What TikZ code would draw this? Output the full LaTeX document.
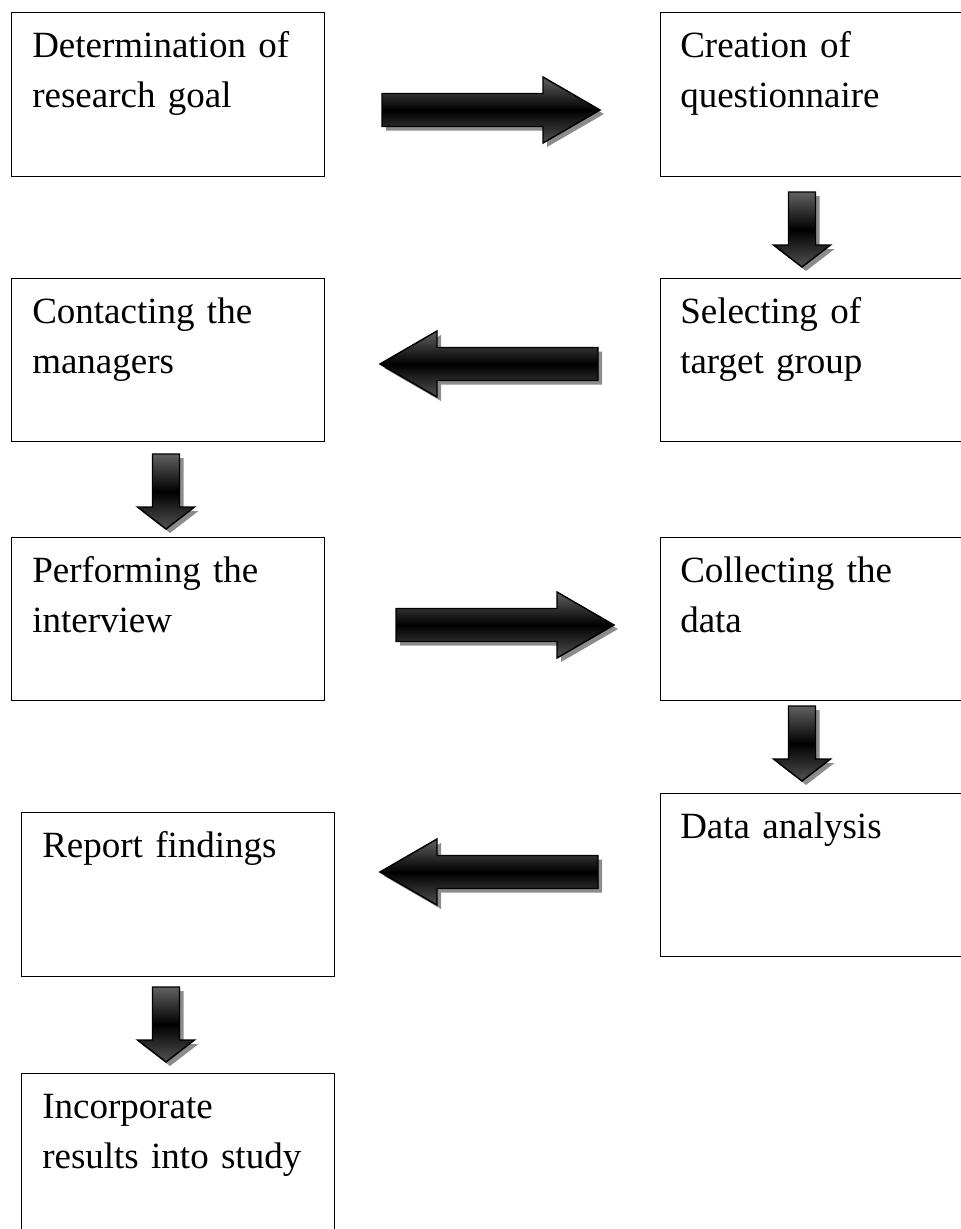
\documentclass[tikz,border=0pt]{standalone}
\usepackage{fontspec}
\setmainfont{Liberation Serif}
\begin{document}
\begin{tikzpicture}[x=0.75pt, y=-0.75pt,
  box/.style={draw=black, line width=1.1pt, fill=white, rectangle, inner sep=0pt,
    anchor=north west, minimum width=313*0.75pt, minimum height=164*0.75pt},
  widebox/.style={box, minimum width=330*0.75pt},
  txt/.style={anchor=base west, inner sep=0pt, align=left, text width=300*0.75pt,
    font=\fontsize{27.75pt}{37.5pt}\selectfont},
  arrowshadow/.style={fill=black!45},
  arrowbody/.style={draw=black, line width=1.1pt, line join=miter,
    top color=black!62, bottom color=black!68, middle color=black},
  pics/arrowright/.style={code={
    \fill[arrowshadow, shift={(4,4)}] (0,-16.5) -- (161,-16.5) -- (161,-33) -- (218,0)
      -- (161,33) -- (161,16.5) -- (0,16.5) -- cycle;
    \draw[arrowbody] (0,-16.5) -- (161,-16.5) -- (161,-33) -- (218,0)
      -- (161,33) -- (161,16.5) -- (0,16.5) -- cycle;
  }},
  pics/arrowleft/.style={code={
    \fill[arrowshadow, shift={(4,4)}] (0,0) -- (57,-33) -- (57,-16.5) -- (218,-16.5)
      -- (218,16.5) -- (57,16.5) -- (57,33) -- cycle;
    \draw[arrowbody] (0,0) -- (57,-33) -- (57,-16.5) -- (218,-16.5)
      -- (218,16.5) -- (57,16.5) -- (57,33) -- cycle;
  }},
  pics/arrowdown/.style={code={
    \fill[arrowshadow, shift={(4,4)}] (-13.5,0) -- (13.5,0) -- (13.5,53) -- (28.5,53)
      -- (0,75) -- (-28.5,53) -- (-13.5,53) -- cycle;
    \draw[arrowbody] (-13.5,0) -- (13.5,0) -- (13.5,53) -- (28.5,53)
      -- (0,75) -- (-28.5,53) -- (-13.5,53) -- cycle;
  }}
]
\useasboundingbox (0,0) rectangle (961,1229);
\clip (0,0) rectangle (961,1229);

% process steps
\node[box] (goal) at (11,12) {};
\node[txt] (goalt) at ([shift={(21,45)}]goal.north west) {Determination of\\research goal};

\node[widebox] (quest) at (660,12) {};
\node[txt] (questt) at ([shift={(20,45)}]quest.north west) {Creation of\\questionnaire};

\node[widebox, minimum height=163*0.75pt] (target) at (660,278) {};
\node[txt] (targett) at ([shift={(20,45)}]target.north west) {Selecting of\\target group};

\node[box, minimum height=163*0.75pt] (contact) at (11,278) {};
\node[txt] (contactt) at ([shift={(21,45)}]contact.north west) {Contacting the\\managers};

\node[box, minimum height=163*0.75pt] (interview) at (11,537) {};
\node[txt] (interviewt) at ([shift={(21,45)}]interview.north west) {Performing the\\interview};

\node[widebox, minimum height=163*0.75pt] (collect) at (660,537) {};
\node[txt] (collectt) at ([shift={(20,45)}]collect.north west) {Collecting the\\data};

\node[widebox, minimum height=163*0.75pt] (analysis) at (660,793) {};
\node[txt] (analysist) at ([shift={(20,45)}]analysis.north west) {Data analysis};

\node[box] (report) at (21,812) {};
\node[txt] (reportt) at ([shift={(21,45)}]report.north west) {Report findings};

\node[box, minimum height=200*0.75pt] (study) at (21,1073) {};
\node[txt] (studyt) at ([shift={(21,45)}]study.north west) {Incorporate\\results into study};

% block arrows between the steps
\pic at (382,110) {arrowright};
\pic at (802,192) {arrowdown};
\pic at (380,364) {arrowleft};
\pic at (166,454) {arrowdown};
\pic at (396,625) {arrowright};
\pic at (802,706) {arrowdown};
\pic at (380,872) {arrowleft};
\pic at (166,987) {arrowdown};
\end{tikzpicture}
\end{document}
